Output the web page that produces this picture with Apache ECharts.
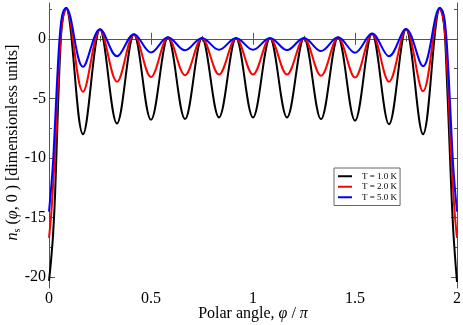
<!DOCTYPE html>
<html><head><meta charset="utf-8">
<script src="https://cdn.jsdelivr.net/npm/echarts@6/dist/echarts.min.js"></script>
<style>html,body{margin:0;padding:0;background:#fff}#c{width:463px;height:325px}</style>
</head><body><div id="c"></div>
<script>
// Polar angle phi / pi
const phi = [0, 0.01, 0.02, 0.03, 0.04, 0.05, 0.06, 0.07, 0.0833,
  0.1667, 0.25, 0.3333, 0.4167, 0.5, 0.5833, 0.6667, 0.75, 0.8333, 0.9167, 1.0,
  1.0833, 1.1667, 1.25, 1.3333, 1.4167, 1.5, 1.5833, 1.6667, 1.75, 1.8333,
  1.9167, 1.93, 1.94, 1.95, 1.96, 1.97, 1.98, 1.99, 2.0];
// n_s(phi,0) for T = 1.0 K
const nT1 = [-20.3, -18.6, -16.4, -13.0, -7.8, -3.0, 0.5, 1.9, 2.55,
  -8.0, 0.78, -7.1, 0.36, -6.8, 0.1, -6.73, 0.05, -6.6, 0.05, -6.6,
  0.05, -6.6, 0.05, -6.75, 0.1, -6.87, 0.42, -7.17, 0.8, -8.0,
  2.55, 1.9, 0.5, -3.2, -7.4, -11.8, -15.6, -18.2, -20.4];
// T = 2.0 K
const nT2 = [-16.7, -14.9, -12.3, -9.4, -5.2, -1.8, 0.7, 2.0, 2.55,
  -4.45, 0.78, -3.6, 0.36, -3.2, 0.1, -3.05, 0.05, -3.0, 0.05, -3.0,
  0.05, -3.0, 0.05, -3.1, 0.1, -3.25, 0.42, -3.6, 0.8, -4.4,
  2.55, 2.0, 0.7, -1.8, -5.2, -9.4, -12.3, -14.9, -16.7];
// T = 5.0 K
const nT5 = [-14.5, -12.6, -10.3, -6.9, -3.4, -0.4, 1.5, 2.3, 2.6,
  -2.35, 0.8, -1.47, 0.38, -1.15, 0.12, -0.97, 0.07, -0.92, 0.07, -0.92,
  0.07, -0.95, 0.07, -1.03, 0.12, -1.17, 0.44, -1.47, 0.82, -2.3,
  2.6, 2.3, 1.5, -0.4, -3.4, -6.9, -10.3, -12.6, -14.5];
const seriesNames = ['T = 1.0 K', 'T = 2.0 K', 'T = 5.0 K'];
const seriesColors = ['#000000', '#ff0000', '#0000ff'];
const yMajorTicks = [-20, -15, -10, -5, 0];
const yMinorTicks = [-17.5, -12.5, -7.5, -2.5, 2.5];

const FONT = 'Liberation Serif';
const AX = '#555';
const Y_MIN = -20.9, Y_MAX = 3;
const pairs = (ys) => phi.map((x, i) => [x, ys[i]]);

const chart = echarts.init(document.getElementById('c'), null, {renderer: 'canvas'});

function yAx(pos, ticks, len, showLine, labels) {
  return {
    type: 'value', position: pos, min: Y_MIN, max: Y_MAX,
    axisLine: {show: showLine, lineStyle: {color: AX, width: 1}},
    axisTick: {show: true, inside: true, length: len, customValues: ticks, lineStyle: {color: AX}},
    axisLabel: labels ? {show: true, customValues: ticks, fontFamily: FONT, fontSize: 16, color: '#000', margin: 3} : {show: false},
    splitLine: {show: false}
  };
}

chart.setOption({
  animation: false,
  backgroundColor: '#fff',
  grid: {left: 49, right: 6, top: 3, bottom: 37, containLabel: false, outerBoundsMode: 'none'},
  legend: {
    data: seriesNames.map(n => ({name: n, icon: 'rect'})), orient: 'vertical', left: 334, top: 168,
    itemWidth: 14, itemHeight: 2, itemGap: 0,
    textStyle: {fontFamily: FONT, fontSize: 9, color: '#000', padding: [0, 0, 0, 5], lineHeight: 10.5},
    borderColor: '#666', borderWidth: 1, borderRadius: 0, padding: [3, 3, 3, 4],
    backgroundColor: '#fff'
  },
  xAxis: [{
    type: 'value', position: 'bottom', min: 0, max: 2, interval: 0.5,
    axisLine: {show: true, lineStyle: {color: AX, width: 1}},
    axisTick: {show: true, inside: true, length: 6, lineStyle: {color: AX}},
    minorTick: {show: true, splitNumber: 2, length: 3, lineStyle: {color: AX}},
    axisLabel: {fontFamily: FONT, fontSize: 16, color: '#000', margin: 3},
    splitLine: {show: false},
    name: '{r|Polar angle, }{i|φ}{r| / }{i|π}',
    nameLocation: 'middle', nameGap: 18, nameMoveOverlap: false,
    nameTextStyle: {
      fontFamily: FONT, fontSize: 16, color: '#000',
      rich: {
        r: {fontFamily: FONT, fontSize: 16, color: '#000'},
        i: {fontFamily: FONT, fontSize: 16, color: '#000', fontStyle: 'italic'}
      }
    }
  }, {
    type: 'value', position: 'top', min: 0, max: 2, interval: 0.5,
    axisLine: {show: true, lineStyle: {color: AX, width: 1}},
    axisTick: {show: true, inside: true, length: 6, lineStyle: {color: AX}},
    minorTick: {show: true, splitNumber: 2, length: 3, lineStyle: {color: AX}},
    axisLabel: {show: false},
    splitLine: {show: false}
  }],
  yAxis: [
    Object.assign(yAx('left', yMajorTicks, 6, true, true), {
      name: '{i|n}{s|s}{r| (}{i|φ}{r|, 0 ) [dimensionless units]}',
      nameLocation: 'middle', nameGap: 27, nameRotate: 90, nameMoveOverlap: false,
      nameTextStyle: {
        fontFamily: FONT, fontSize: 16, color: '#000', padding: [0, 0, 0, 6],
        rich: {
          r: {fontFamily: FONT, fontSize: 16, color: '#000', lineHeight: 18},
          i: {fontFamily: FONT, fontSize: 16, color: '#000', fontStyle: 'italic', lineHeight: 18},
          s: {fontFamily: FONT, fontSize: 10, color: '#000', verticalAlign: 'bottom', lineHeight: 10}
        }
      }
    }),
    yAx('left', yMinorTicks, 3, false, false),
    yAx('right', yMajorTicks, 6, true, false),
    yAx('right', yMinorTicks, 3, false, false)
  ],
  series: [nT1, nT2, nT5].map((d, k) => ({
    name: seriesNames[k], type: 'line', xAxisIndex: 0, yAxisIndex: 0,
    data: pairs(d), smooth: 0.36, symbol: 'none', showSymbol: false,
    lineStyle: {color: seriesColors[k], width: 2}, itemStyle: {color: seriesColors[k]},
    z: 2 + k
  }))
});
</script></body></html>
